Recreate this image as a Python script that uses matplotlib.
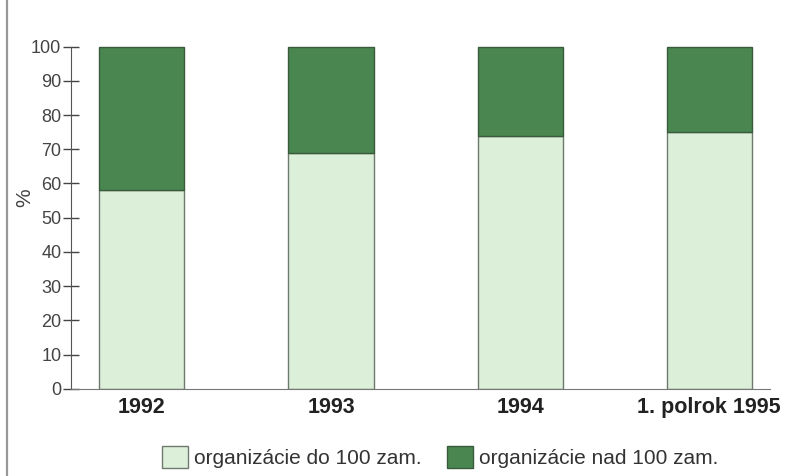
import matplotlib.pyplot as plt
from matplotlib.patches import Patch
from matplotlib.lines import Line2D

plt.rcParams['font.family'] = ['Liberation Sans', 'DejaVu Sans']

# share of organisations by size, in %
periods = ['1992', '1993', '1994', '1. polrok 1995']
small_orgs = [58, 69, 74, 75]
large_orgs = [100 - v for v in small_orgs]

light = '#dcefd8'
dark = '#4a8650'
edge_light = '#6f7a6f'
edge_dark = '#3a5a3c'

fig = plt.figure(figsize=(7.86, 4.76), dpi=100)
ax = fig.add_axes([0.0903, 0.1828, 0.889, 0.7195])

x = range(len(periods))
ax.bar(x, small_orgs, width=0.45, color=light, edgecolor=edge_light, linewidth=1)
ax.bar(x, large_orgs, width=0.45, bottom=small_orgs, color=dark,
       edgecolor=edge_dark, linewidth=1, clip_on=False)

ax.set_xlim(-0.375, 3.32)
ax.set_ylim(0, 100)
ax.set_yticks(range(0, 101, 10))
ax.tick_params(axis='y', direction='inout', length=12, width=1, colors='#444444',
               labelsize=13, pad=1)
ax.tick_params(axis='x', length=0, pad=6, labelsize=15.5)
ax.set_xticks(list(x))
ax.set_xticklabels(periods, fontweight='bold', color='#222222')

for side in ['top', 'right']:
    ax.spines[side].set_visible(False)
ax.spines['left'].set_color('#555555')
ax.spines['bottom'].set_color('#777777')

fig.text(0.031, 0.584, '%', rotation=90, fontsize=15, color='#444444',
         ha='center', va='center')

handles = [Patch(facecolor=light, edgecolor=edge_light),
           Patch(facecolor=dark, edgecolor=edge_dark)]
fig.legend(handles, ['organizácie do 100 zam.', 'organizácie nad 100 zam.'],
           loc='center', bbox_to_anchor=(0.560, 0.040), ncol=2, frameon=False,
           fontsize=15, handlelength=1.25, handleheight=1.25, handletextpad=0.25,
           columnspacing=1.25, labelcolor='#333333', borderpad=0)

# page border on the left
fig.add_artist(Line2D([0.009, 0.009], [0, 1], color='#999999', linewidth=1.6))

fig.savefig('out.png', dpi=100)
